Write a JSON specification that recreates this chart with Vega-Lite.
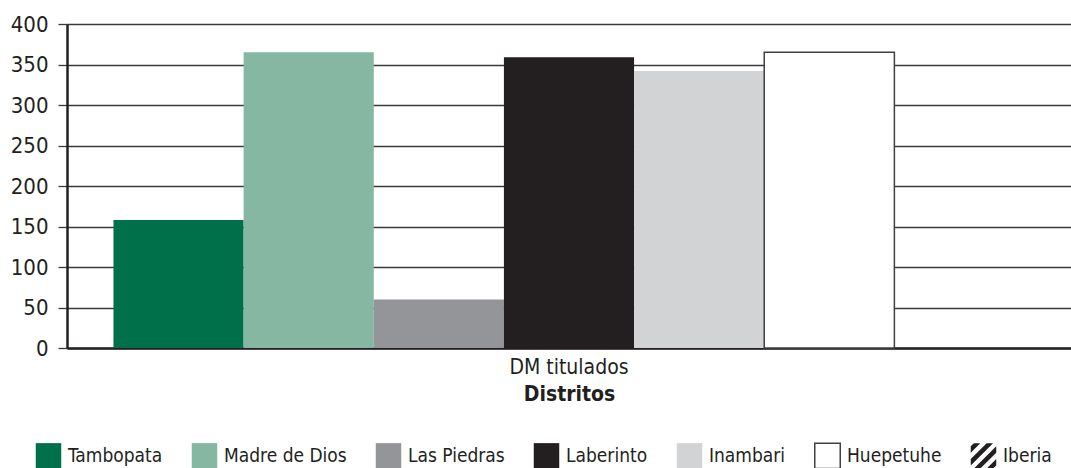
{
  "$schema": "https://vega.github.io/schema/vega-lite/v6.json",
  "width": 1004,
  "height": 324,
  "autosize": {"type": "pad"},
  "padding": {"left": 10, "top": 13, "right": 0, "bottom": 0},
  "config": {
    "view": {"stroke": null},
    "font": "Liberation Sans Narrow, DejaVu Sans Condensed, sans-serif"
  },
  "data": {
    "values": [
      {"categoria": "DM titulados", "distrito": "Tambopata", "valor": 158},
      {"categoria": "DM titulados", "distrito": "Madre de Dios", "valor": 365},
      {"categoria": "DM titulados", "distrito": "Las Piedras", "valor": 60},
      {"categoria": "DM titulados", "distrito": "Laberinto", "valor": 359},
      {"categoria": "DM titulados", "distrito": "Inambari", "valor": 342},
      {"categoria": "DM titulados", "distrito": "Huepetuhe", "valor": 365},
      {"categoria": "DM titulados", "distrito": "Iberia", "valor": 0}
    ]
  },
  "layer": [
    {
      "mark": {"type": "bar", "strokeWidth": 1.5, "opacity": 1},
      "encoding": {
        "x": {
          "field": "categoria",
          "type": "nominal",
          "scale": {"paddingOuter": 0.051, "paddingInner": 0},
          "title": "Distritos",
          "axis": {
            "labelAngle": 0,
            "ticks": false,
            "grid": false,
            "domainColor": "#231f20",
            "domainWidth": 2.5,
            "labelFontSize": 21,
            "labelColor": "#231f20",
            "labelPadding": 8,
            "titleFontSize": 21,
            "titleFontWeight": "bold",
            "titleColor": "#231f20",
            "titlePadding": 6
          }
        },
        "xOffset": {
          "field": "distrito",
          "type": "nominal",
          "sort": null,
          "scale": {"domain": ["Tambopata", "Madre de Dios", "Las Piedras", "Laberinto", "Inambari", "Huepetuhe", "Iberia"]}
        },
        "y": {
          "field": "valor",
          "type": "quantitative",
          "stack": null,
          "scale": {"domain": [0, 400]},
          "title": null,
          "axis": {
            "values": [0, 50, 100, 150, 200, 250, 300, 350, 400],
            "grid": true,
            "gridColor": "#3a3a3a",
            "gridWidth": 1.3,
            "tickColor": "#3a3a3a",
            "tickWidth": 1.3,
            "tickSize": 9,
            "domainColor": "#231f20",
            "domainWidth": 2.5,
            "labelFontSize": 22,
            "labelColor": "#231f20",
            "labelPadding": 10
          }
        },
        "fill": {
          "field": "distrito",
          "type": "nominal",
          "scale": {
            "domain": ["Tambopata", "Madre de Dios", "Las Piedras", "Laberinto", "Inambari", "Huepetuhe", "Iberia"],
            "range": ["#00704a", "#85b7a3", "#939598", "#231f20", "#d1d3d4", "#ffffff", "#231f20"]
          },
          "legend": {
            "title": null,
            "orient": "none",
            "legendX": -32,
            "legendY": 418,
            "direction": "horizontal",
            "columns": 7,
            "columnPadding": 25,
            "symbolSize": 650,
            "symbolOpacity": 1,
            "symbolStrokeWidth": 1.5,
            "labelFontSize": 19,
            "labelColor": "#231f20",
            "labelOffset": 6
          }
        },
        "stroke": {
          "field": "distrito",
          "type": "nominal",
          "scale": {
            "domain": ["Tambopata", "Madre de Dios", "Las Piedras", "Laberinto", "Inambari", "Huepetuhe", "Iberia"],
            "range": ["transparent", "transparent", "transparent", "transparent", "transparent", "#414042", "transparent"]
          },
          "legend": {
            "title": null,
            "orient": "none",
            "legendX": -32,
            "legendY": 418,
            "direction": "horizontal",
            "columns": 7,
            "columnPadding": 25,
            "symbolSize": 650,
            "symbolOpacity": 1,
            "symbolStrokeWidth": 1.5,
            "labelFontSize": 19,
            "labelColor": "#231f20",
            "labelOffset": 6
          }
        }
      }
    },
    {
      "data": {"values": []},
      "mark": {"type": "point", "filled": true, "opacity": 1},
      "encoding": {
        "shape": {
          "field": "distrito",
          "type": "nominal",
          "scale": {
            "domain": ["Tambopata", "Madre de Dios", "Las Piedras", "Laberinto", "Inambari", "Huepetuhe", "Iberia"],
            "range": ["square", "square", "square", "square", "square", "square", "M-1,-0.75L-0.75,-1L-0.25,-1L-1,-0.25ZM-1,0.25L0.25,-1L0.75,-1L-1,0.75ZM-0.75,1L1,-0.75L1,-0.25L-0.25,1ZM0.25,1L1,0.25L1,0.75L0.75,1Z"]
          },
          "legend": {
            "title": null,
            "orient": "none",
            "legendX": -32,
            "legendY": 418,
            "direction": "horizontal",
            "columns": 7,
            "columnPadding": 25,
            "symbolSize": 650,
            "symbolOpacity": 1,
            "symbolStrokeWidth": 1.5,
            "labelFontSize": 19,
            "labelColor": "#231f20",
            "labelOffset": 6
          }
        },
        "fill": {"field": "distrito", "type": "nominal"},
        "stroke": {"field": "distrito", "type": "nominal"}
      }
    }
  ]
}
